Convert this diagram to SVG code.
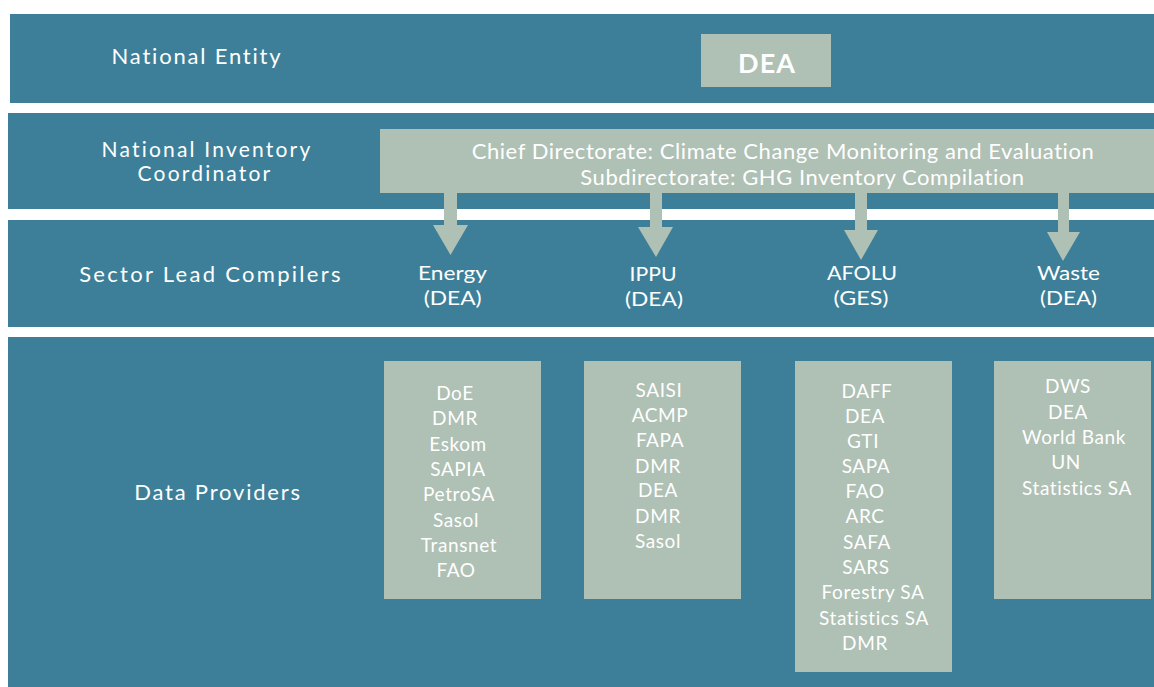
<svg xmlns="http://www.w3.org/2000/svg" width="1154" height="687" viewBox="0 0 1154 687">
<style>
.band{fill:#3d7f99}
.box{fill:#afc0b4}
.lbl{font-family:Lato,"Open Sans","Liberation Sans",sans-serif;font-size:22px;fill:#ffffff;letter-spacing:1.8px;text-anchor:middle}
.lbl2{font-family:Lato,"Open Sans","Liberation Sans",sans-serif;font-size:21px;fill:#ffffff;letter-spacing:2.2px;text-anchor:middle}
.c{font-family:Lato,"Open Sans","Liberation Sans",sans-serif;font-size:22px;fill:#ffffff;letter-spacing:0.55px;text-anchor:middle}
.t{font-family:Lato,"Open Sans","Liberation Sans",sans-serif;font-size:19.5px;fill:#ffffff;text-anchor:middle}
.p{font-family:Lato,"Open Sans","Liberation Sans",sans-serif;font-size:19px;fill:#ffffff;letter-spacing:0.6px;text-anchor:middle}
.arrow{fill:#afc0b4}
</style>
<rect width="1154" height="687" fill="#ffffff"/>
<g id="band-national-entity">
<rect class="band" x="10" y="14" width="1144" height="89"/>
<text class="lbl" x="197" y="64">National Entity</text>
</g>
<g id="band-coordinator">
<rect class="band" x="8" y="113" width="1146" height="96"/>
<text class="lbl2" x="207" y="157">National Inventory</text>
<text class="lbl2" x="205" y="181">Coordinator</text>
</g>
<g id="band-sector">
<rect class="band" x="8" y="220" width="1146" height="107"/>
<text class="lbl" x="211" y="282" style="letter-spacing:2.3px">Sector Lead Compilers</text>
</g>
<g id="band-data">
<rect class="band" x="8" y="337" width="1146" height="350"/>
<text class="lbl" x="218" y="500">Data Providers</text>
</g>
<g id="connectors">
<polygon class="arrow" points="444,192 457,192 457,225 468,225 450.5,255 433,225 444,225"/>
<polygon class="arrow" points="650,192 662,192 662,227 673,227 656,257 638,227 650,227"/>
<polygon class="arrow" points="855,192 867,192 867,230 878,230 861,260 844,230 855,230"/>
<polygon class="arrow" points="1058,192 1069,192 1069,232 1080,232 1063,261 1047,232 1058,232"/>
</g>
<g id="node-dea">
<rect class="box" x="701" y="34" width="130" height="53"/>
<text x="767" y="73" font-family="Lato,'Open Sans','Liberation Sans',sans-serif" font-size="27" font-weight="bold" letter-spacing="1" fill="#ffffff" text-anchor="middle">DEA</text>
</g>
<g id="node-chief">
<rect class="box" x="380" y="129" width="774" height="64"/>
<text class="c" x="783" y="159">Chief Directorate: Climate Change Monitoring and Evaluation</text>
<text class="c" x="802.5" y="185">Subdirectorate: GHG Inventory Compilation</text>
</g>
<g id="node-energy">
<text class="t" x="452.5" y="280" textLength="69" lengthAdjust="spacingAndGlyphs">Energy</text>
<text class="t" x="452.7" y="305" textLength="58" lengthAdjust="spacingAndGlyphs">(DEA)</text>
</g>
<g id="node-ippu">
<text class="t" x="653" y="281" textLength="47" lengthAdjust="spacingAndGlyphs">IPPU</text>
<text class="t" x="654" y="306" textLength="58" lengthAdjust="spacingAndGlyphs">(DEA)</text>
</g>
<g id="node-afolu">
<text class="t" x="862" y="280" textLength="70" lengthAdjust="spacingAndGlyphs">AFOLU</text>
<text class="t" x="861" y="305" textLength="55" lengthAdjust="spacingAndGlyphs">(GES)</text>
</g>
<g id="node-waste">
<text class="t" x="1068.4" y="280" textLength="63" lengthAdjust="spacingAndGlyphs">Waste</text>
<text class="t" x="1068.5" y="305" textLength="57" lengthAdjust="spacingAndGlyphs">(DEA)</text>
</g>
<g id="node-energy-providers">
<rect class="box" x="384" y="361" width="157" height="238"/>
<text class="p" x="455" y="400">DoE</text>
<text class="p" x="455" y="425">DMR</text>
<text class="p" x="458" y="451">Eskom</text>
<text class="p" x="458" y="476">SAPIA</text>
<text class="p" x="459" y="501">PetroSA</text>
<text class="p" x="456" y="527">Sasol</text>
<text class="p" x="459" y="552">Transnet</text>
<text class="p" x="456" y="577">FAO</text>
</g>
<g id="node-ippu-providers">
<rect class="box" x="584" y="361" width="157" height="238"/>
<text class="p" x="659" y="397">SAISI</text>
<text class="p" x="660" y="422">ACMP</text>
<text class="p" x="660" y="447">FAPA</text>
<text class="p" x="658" y="473">DMR</text>
<text class="p" x="658" y="497">DEA</text>
<text class="p" x="658" y="523">DMR</text>
<text class="p" x="658" y="548">Sasol</text>
</g>
<g id="node-afolu-providers">
<rect class="box" x="795" y="361" width="157" height="311"/>
<text class="p" x="867" y="398">DAFF</text>
<text class="p" x="865" y="423">DEA</text>
<text class="p" x="863" y="448">GTI</text>
<text class="p" x="866" y="473">SAPA</text>
<text class="p" x="865" y="498">FAO</text>
<text class="p" x="865" y="523">ARC</text>
<text class="p" x="867" y="549">SAFA</text>
<text class="p" x="866" y="574">SARS</text>
<text class="p" x="873" y="599">Forestry SA</text>
<text class="p" x="874" y="625">Statistics SA</text>
<text class="p" x="865" y="650">DMR</text>
</g>
<g id="node-waste-providers">
<rect class="box" x="994" y="361" width="157" height="238"/>
<text class="p" x="1068" y="393">DWS</text>
<text class="p" x="1068" y="419">DEA</text>
<text class="p" x="1074" y="444">World Bank</text>
<text class="p" x="1066" y="469">UN</text>
<text class="p" x="1077" y="495">Statistics SA</text>
</g>
</svg>
